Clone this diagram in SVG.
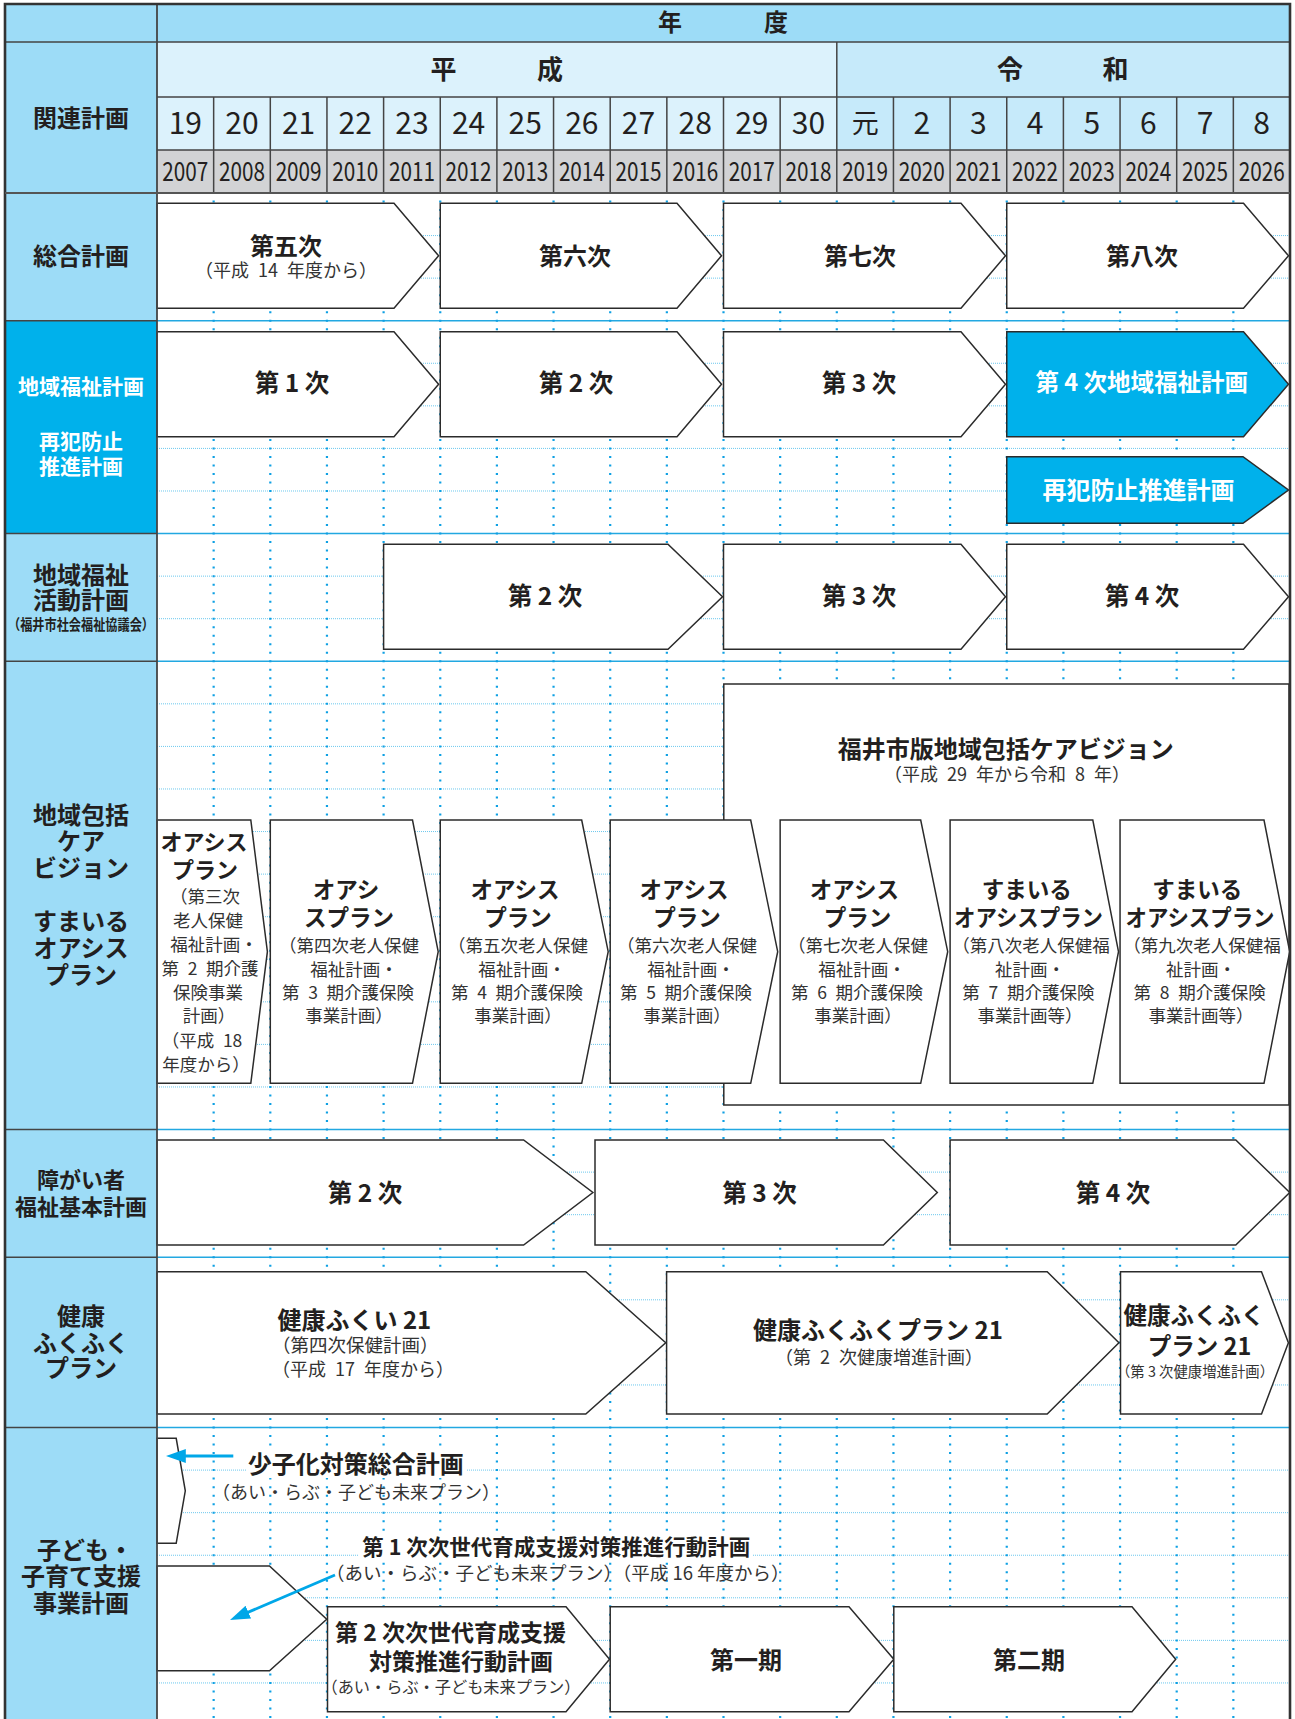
<svg xmlns="http://www.w3.org/2000/svg" width="1295" height="1719" viewBox="0 0 1295 1719">
<style>
.t{font-family:"Noto Sans CJK JP","Noto Sans",sans-serif;dominant-baseline:central;text-anchor:middle;transform:translateY(-2px)}
.b{font-weight:700;fill:#231f20}
.s{font-weight:400;fill:#333}
.n{font-weight:400;fill:#231f20}
.w{font-weight:700;fill:#fff}
.box{fill:#fff;stroke:#2b2b2b;stroke-width:1.5}
.cbox{fill:#00b1eb;stroke:#2b2b2b;stroke-width:1.5}
.hd{stroke:#444;stroke-width:1.5;fill:none}
.vd{stroke:#0ea0e3;stroke-width:2.2;stroke-dasharray:2 6.514;fill:none}
.hdot{stroke:#6cc8ee;stroke-width:1;stroke-dasharray:1 1;fill:none}
.maj{stroke:#22a8e1;stroke-width:1.5;fill:none}
.arr{stroke:#00a7e8;stroke-width:2.8;fill:none}
</style>
<defs>
<marker id="ah" markerUnits="userSpaceOnUse" markerWidth="20" markerHeight="14" refX="8" refY="7" orient="auto">
<path d="M0,0 L20,7 L0,14 Z" fill="#00a7e8"/>
</marker>
</defs>
<rect x="0" y="0" width="1295" height="1719" fill="#fff"/>

<g id="header">
<rect x="5" y="4" width="152" height="1715" fill="#9ddcf7"/>
<rect x="5" y="320.71" width="152" height="212.85" fill="#00b1eb"/>
<rect x="157" y="4" width="1133" height="38" fill="#9ddcf7"/>
<rect x="157" y="42" width="679.8" height="108" fill="#dcf2fc"/>
<rect x="836.8" y="42" width="453.2" height="108" fill="#c6eafa"/>
<rect x="157" y="150" width="1133" height="43" fill="#d2d3d5"/>
<path class="hd" d="M5,42H1290M157,97H1290M157,150H1290M5,320.71H157M5,533.56H157M5,661.27H157M5,1129.54H157M5,1257.25H157M5,1427.53H157M836.8,42V193"/>
<path class="hd" d="M213.65,97V193M270.3,97V193M326.95,97V193M383.6,97V193M440.25,97V193M496.9,97V193M553.55,97V193M610.2,97V193M666.85,97V193M723.5,97V193M780.15,97V193M893.45,97V193M950.1,97V193M1006.75,97V193M1063.4,97V193M1120.05,97V193M1176.7,97V193M1233.35,97V193"/>
<text class="t b" x="670" y="22.5" font-size="24">年</text>
<text class="t b" x="776" y="22.5" font-size="24">度</text>
<text class="t b" x="443.5" y="69" font-size="26">平</text>
<text class="t b" x="550" y="69" font-size="26">成</text>
<text class="t b" x="1010" y="69" font-size="26">令</text>
<text class="t b" x="1115.5" y="69" font-size="26">和</text>
<g class="t n" font-size="30">
<text x="185.33" y="123">19</text><text x="241.98" y="123">20</text><text x="298.63" y="123">21</text><text x="355.28" y="123">22</text><text x="411.93" y="123">23</text><text x="468.58" y="123">24</text><text x="525.23" y="123">25</text><text x="581.88" y="123">26</text><text x="638.53" y="123">27</text><text x="695.18" y="123">28</text><text x="751.83" y="123">29</text><text x="808.48" y="123">30</text><text x="865.13" y="123" font-size="27">元</text><text x="921.78" y="123">2</text><text x="978.43" y="123">3</text><text x="1035.08" y="123">4</text><text x="1091.73" y="123">5</text><text x="1148.38" y="123">6</text><text x="1205.03" y="123">7</text><text x="1261.68" y="123">8</text>
</g>
<g class="t n" font-size="26">
<text x="185.33" y="171.5" textLength="46" lengthAdjust="spacingAndGlyphs">2007</text><text x="241.98" y="171.5" textLength="46" lengthAdjust="spacingAndGlyphs">2008</text><text x="298.63" y="171.5" textLength="46" lengthAdjust="spacingAndGlyphs">2009</text><text x="355.28" y="171.5" textLength="46" lengthAdjust="spacingAndGlyphs">2010</text><text x="411.93" y="171.5" textLength="46" lengthAdjust="spacingAndGlyphs">2011</text><text x="468.58" y="171.5" textLength="46" lengthAdjust="spacingAndGlyphs">2012</text><text x="525.23" y="171.5" textLength="46" lengthAdjust="spacingAndGlyphs">2013</text><text x="581.88" y="171.5" textLength="46" lengthAdjust="spacingAndGlyphs">2014</text><text x="638.53" y="171.5" textLength="46" lengthAdjust="spacingAndGlyphs">2015</text><text x="695.18" y="171.5" textLength="46" lengthAdjust="spacingAndGlyphs">2016</text><text x="751.83" y="171.5" textLength="46" lengthAdjust="spacingAndGlyphs">2017</text><text x="808.48" y="171.5" textLength="46" lengthAdjust="spacingAndGlyphs">2018</text><text x="865.13" y="171.5" textLength="46" lengthAdjust="spacingAndGlyphs">2019</text><text x="921.78" y="171.5" textLength="46" lengthAdjust="spacingAndGlyphs">2020</text><text x="978.43" y="171.5" textLength="46" lengthAdjust="spacingAndGlyphs">2021</text><text x="1035.08" y="171.5" textLength="46" lengthAdjust="spacingAndGlyphs">2022</text><text x="1091.73" y="171.5" textLength="46" lengthAdjust="spacingAndGlyphs">2023</text><text x="1148.38" y="171.5" textLength="46" lengthAdjust="spacingAndGlyphs">2024</text><text x="1205.03" y="171.5" textLength="46" lengthAdjust="spacingAndGlyphs">2025</text><text x="1261.68" y="171.5" textLength="46" lengthAdjust="spacingAndGlyphs">2026</text>
</g>
</g>

<g id="labels">
<text class="t b" x="81" y="118" font-size="24">関連計画</text>
<text class="t b" x="81" y="256.7" font-size="24">総合計画</text>
<text class="t w" x="81" y="386.7" font-size="21">地域福祉計画</text>
<text class="t w" x="81" y="441.7" font-size="21">再犯防止</text>
<text class="t w" x="81" y="466.7" font-size="21">推進計画</text>
<text class="t b" x="81" y="575" font-size="24">地域福祉</text>
<text class="t b" x="81" y="600" font-size="24">活動計画</text>
<text class="t b" x="81" y="625" font-size="14.5" textLength="146" lengthAdjust="spacingAndGlyphs">（福井市社会福祉協議会）</text>
<text class="t b" x="81" y="815" font-size="24">地域包括</text>
<text class="t b" x="81" y="841.7" font-size="24">ケア</text>
<text class="t b" x="81" y="868.3" font-size="24">ビジョン</text>
<text class="t b" x="81" y="921.7" font-size="24">すまいる</text>
<text class="t b" x="81" y="948.3" font-size="24">オアシス</text>
<text class="t b" x="81" y="975" font-size="24">プラン</text>
<text class="t b" x="81" y="1180" font-size="22">障がい者</text>
<text class="t b" x="81" y="1207.3" font-size="22">福祉基本計画</text>
<text class="t b" x="81" y="1316.7" font-size="24">健康</text>
<text class="t b" x="81" y="1343.3" font-size="24">ふくふく</text>
<text class="t b" x="81" y="1368.3" font-size="24">プラン</text>
<text class="t b" x="85" y="1550" font-size="24">子ども・</text>
<text class="t b" x="81" y="1576.7" font-size="24">子育て支援</text>
<text class="t b" x="81" y="1603.3" font-size="24">事業計画</text>
</g>

<g id="grid">
<path class="hdot" d="M157,235.57H1290M157,278.14H1290M157,363.28H1290M157,405.85H1290M157,448.42H1290M157,490.99H1290M157,576.13H1290M157,618.7H1290M157,703.84H1290M157,746.41H1290M157,788.98H1290M157,831.55H1290M157,874.12H1290M157,916.69H1290M157,959.26H1290M157,1001.83H1290M157,1044.4H1290M157,1086.97H1290M157,1172.11H1290M157,1214.68H1290M157,1299.82H1290M157,1342.39H1290M157,1384.96H1290M157,1470.1H1290M157,1512.67H1290M157,1555.24H1290M157,1597.81H1290M157,1640.38H1290M157,1682.95H1290"/>
<path class="maj" d="M157,320.71H1290M157,533.56H1290M157,661.27H1290M157,1129.54H1290M157,1257.25H1290M157,1427.53H1290"/>
<path class="vd" d="M213.65,192V1719M270.3,192V1719M326.95,192V1719M383.6,192V1719M440.25,192V1719M496.9,192V1719M553.55,192V1719M610.2,192V1719M666.85,192V1719M723.5,192V1719M780.15,192V1719M836.8,192V1719M893.45,192V1719M950.1,192V1719M1006.75,192V1719M1063.4,192V1719M1120.05,192V1719M1176.7,192V1719M1233.35,192V1719"/>
</g>

<g id="sogo5"><path class="box" d="M157,203.3H394L438.6,255.8L394,308.3H157Z"/>
<text class="t b" x="286" y="246.7" font-size="24">第五次</text>
<text class="t s" x="286" y="270.7" font-size="18">（平成&#8194;14&#8194;年度から）</text></g>
<g id="sogo6"><path class="box" d="M440.25,203.3H677L721.5,255.8L677,308.3H440.25Z"/>
<text class="t b" x="575" y="256.7" font-size="24">第六次</text></g>
<g id="sogo7"><path class="box" d="M723.5,203.3H961L1005.5,255.8L961,308.3H723.5Z"/>
<text class="t b" x="860" y="256.7" font-size="24">第七次</text></g>
<g id="sogo8"><path class="box" d="M1006.75,203.3H1243.5L1288.5,255.8L1243.5,308.3H1006.75Z"/>
<text class="t b" x="1142" y="256.7" font-size="24">第八次</text></g>

<g id="chiiki1"><path class="box" d="M157,331.7H394L438.6,384.2L394,436.7H157Z"/>
<text class="t b" x="292" y="383.3" font-size="24.5">第 1 次</text></g>
<g id="chiiki2"><path class="box" d="M440.25,331.7H677L721.5,384.2L677,436.7H440.25Z"/>
<text class="t b" x="576" y="383.3" font-size="24.5">第 2 次</text></g>
<g id="chiiki3"><path class="box" d="M723.5,331.7H961L1005.5,384.2L961,436.7H723.5Z"/>
<text class="t b" x="859" y="383.3" font-size="24.5">第 3 次</text></g>
<g id="chiiki4"><path class="cbox" d="M1006.75,331.7H1243.5L1288.5,384.2L1243.5,436.7H1006.75Z"/>
<text class="t w" x="1141.8" y="383.3" font-size="23.5">第 4 次地域福祉計画</text></g>
<g id="saihan"><path class="cbox" d="M1006.75,456.7H1243L1288.5,490L1243,523.3H1006.75Z"/>
<text class="t w" x="1138.5" y="490.7" font-size="24">再犯防止推進計画</text></g>

<g id="katsudo2"><path class="box" d="M383.6,544.3H668L722.5,596.8L668,649.3H383.6Z"/>
<text class="t b" x="545" y="596.7" font-size="24.5">第 2 次</text></g>
<g id="katsudo3"><path class="box" d="M723.5,544.3H961L1005.5,596.8L961,649.3H723.5Z"/>
<text class="t b" x="859" y="596.7" font-size="24.5">第 3 次</text></g>
<g id="katsudo4"><path class="box" d="M1006.75,544.3H1243.5L1288.5,596.8L1243.5,649.3H1006.75Z"/>
<text class="t b" x="1142" y="596.7" font-size="24.5">第 4 次</text></g>

<g id="carevision"><rect class="box" x="723.8" y="684" width="565.2" height="421"/>
<text class="t b" x="1005.7" y="749.3" font-size="24">福井市版地域包括ケアビジョン</text>
<text class="t s" x="1007" y="775" font-size="18">（平成&#8194;29&#8194;年から令和&#8194;8&#8194;年）</text></g>

<g id="oasis1"><path class="box" d="M157,820H250.8L267.4,951.7L250.8,1083.3H157Z"/>
<text class="t b" x="204" y="841.7" font-size="22">オアシス</text>
<text class="t b" x="205" y="870" font-size="22">プラン</text>
<g class="t s" font-size="17.5">
<text x="205" y="897.3">（第三次</text><text x="208" y="921">老人保健</text><text x="214" y="945">福祉計画・</text><text x="210" y="969.3">第&#8194;2&#8194;期介護</text><text x="208" y="993.3">保険事業</text><text x="209" y="1016.7">計画）</text><text x="202" y="1041">（平成&#8194;18</text><text x="206" y="1065">年度から）</text>
</g></g>
<g id="oasis2"><path class="box" d="M270.3,820H412.5L438.2,951.7L412.5,1083.3H270.3Z"/>
<text class="t b" x="346" y="890" font-size="22.5">オアシ</text>
<text class="t b" x="349" y="918.3" font-size="22.5">スプラン</text>
<g class="t s" font-size="17.5"><text x="349" y="946">（第四次老人保健</text><text x="354" y="970">福祉計画・</text><text x="348" y="993.3">第&#8194;3&#8194;期介護保険</text><text x="349" y="1016.7">事業計画）</text></g></g>
<g id="oasis3"><path class="box" d="M440.25,820H581.7L608.2,951.7L581.7,1083.3H440.25Z"/>
<text class="t b" x="515" y="890" font-size="22.5">オアシス</text>
<text class="t b" x="518" y="918.3" font-size="22.5">プラン</text>
<g class="t s" font-size="17.5"><text x="518" y="946">（第五次老人保健</text><text x="522" y="970">福祉計画・</text><text x="517" y="993.3">第&#8194;4&#8194;期介護保険</text><text x="518" y="1016.7">事業計画）</text></g></g>
<g id="oasis4"><path class="box" d="M610.2,820H750.7L777.7,951.7L750.7,1083.3H610.2Z"/>
<text class="t b" x="684" y="890" font-size="22.5">オアシス</text>
<text class="t b" x="687" y="918.3" font-size="22.5">プラン</text>
<g class="t s" font-size="17.5"><text x="687" y="946">（第六次老人保健</text><text x="691" y="970">福祉計画・</text><text x="686" y="993.3">第&#8194;5&#8194;期介護保険</text><text x="687" y="1016.7">事業計画）</text></g></g>
<g id="oasis5"><path class="box" d="M780.15,820H920.7L947.7,951.7L920.7,1083.3H780.15Z"/>
<text class="t b" x="854.4" y="890" font-size="22.5">オアシス</text>
<text class="t b" x="857.4" y="918.3" font-size="22.5">プラン</text>
<g class="t s" font-size="17.5"><text x="858" y="946">（第七次老人保健</text><text x="862" y="970">福祉計画・</text><text x="857" y="993.3">第&#8194;6&#8194;期介護保険</text><text x="858" y="1016.7">事業計画）</text></g></g>
<g id="sumairu6"><path class="box" d="M950.1,820H1092.8L1118.5,951.7L1092.8,1083.3H950.1Z"/>
<text class="t b" x="1026.8" y="890" font-size="22.5">すまいる</text>
<text class="t b" x="1028.5" y="918.3" font-size="22.5" textLength="149" lengthAdjust="spacingAndGlyphs">オアシスプラン</text>
<g class="t s" font-size="17.5"><text x="1031" y="946">（第八次老人保健福</text><text x="1030" y="970">祉計画・</text><text x="1028.4" y="993.3">第&#8194;7&#8194;期介護保険</text><text x="1030" y="1016.7">事業計画等）</text></g></g>
<g id="sumairu7"><path class="box" d="M1120.05,820H1264L1289.7,951.7L1264,1083.3H1120.05Z"/>
<text class="t b" x="1197.3" y="890" font-size="22.5">すまいる</text>
<text class="t b" x="1200" y="918.3" font-size="22.5" textLength="149" lengthAdjust="spacingAndGlyphs">オアシスプラン</text>
<g class="t s" font-size="17.5"><text x="1202" y="946">（第九次老人保健福</text><text x="1201" y="970">祉計画・</text><text x="1199.7" y="993.3">第&#8194;8&#8194;期介護保険</text><text x="1201" y="1016.7">事業計画等）</text></g></g>

<g id="shogai2"><path class="box" d="M157,1140H523.6L592.9,1192.5L523.6,1245H157Z"/>
<text class="t b" x="365" y="1193.3" font-size="24.5">第 2 次</text></g>
<g id="shogai3"><path class="box" d="M595,1140H883.4L937.3,1192.5L883.4,1245H595Z"/>
<text class="t b" x="759.5" y="1193" font-size="24.5">第 3 次</text></g>
<g id="shogai4"><path class="box" d="M950.1,1140H1235.8L1289.7,1192.5L1235.8,1245H950.1Z"/>
<text class="t b" x="1113" y="1193" font-size="24.5">第 4 次</text></g>

<g id="kenko1"><path class="box" d="M157,1271.7H585.8L665.7,1342.8L585.8,1414H157Z"/>
<text class="t b" x="277.5" y="1320" font-size="24" style="text-anchor:start">健康ふくい 21</text>
<text class="t s" x="272" y="1346" font-size="18.5" style="text-anchor:start">（第四次保健計画）</text>
<text class="t s" x="272" y="1370" font-size="18" style="text-anchor:start">（平成&#8194;17&#8194;年度から）</text></g>
<g id="kenko2"><path class="box" d="M666.6,1271.7H1047.2L1118.9,1342.8L1047.2,1414H666.6Z"/>
<text class="t b" x="878" y="1330.7" font-size="24">健康ふくふくプラン 21</text>
<text class="t s" x="879" y="1357.7" font-size="18">（第&#8194;2&#8194;次健康増進計画）</text></g>
<g id="kenko3"><path class="box" d="M1120.5,1271.7H1261.5L1288.4,1342.8L1261.5,1414H1120.5Z"/>
<text class="t b" x="1194" y="1316" font-size="23.5">健康ふくふく</text>
<text class="t b" x="1199.5" y="1346.7" font-size="23.5">プラン 21</text>
<text class="t s" x="1195" y="1372.7" font-size="14.5" textLength="158" lengthAdjust="spacingAndGlyphs">（第 3 次健康増進計画）</text></g>

<g id="shoshika"><path class="box" d="M157,1438.3H176.2L185.3,1490.8L176.2,1543.3H157Z"/>
<rect x="246" y="1451" width="220" height="27" fill="#fff"/>
<text class="t b" x="355.8" y="1464.3" font-size="24">少子化対策総合計画</text>
<text class="t s" x="356" y="1492.7" font-size="18">（あい・らぶ・子ども未来プラン）</text></g>
<g id="jisedai1"><path class="box" d="M157,1566H269.5L326.7,1619.3L269.5,1670.7H157Z"/>
<rect x="358" y="1535" width="395" height="26" fill="#fff"/>
<text class="t b" x="556.3" y="1547.7" font-size="21.5">第 1 次次世代育成支援対策推進行動計画</text>
<text class="t s" x="557.8" y="1574.3" font-size="18.5">（あい・らぶ・子ども未来プラン）（平成 16 年度から）</text></g>
<g id="jisedai2"><path class="box" d="M327.5,1606.7H566L609.5,1659.3L566,1711.7H327.5Z"/>
<text class="t b" x="450.5" y="1633.3" font-size="23">第 2 次次世代育成支援</text>
<text class="t b" x="461" y="1661.7" font-size="23">対策推進行動計画</text>
<text class="t s" x="451" y="1688.3" font-size="16.2">（あい・らぶ・子ども未来プラン）</text></g>
<g id="ki1"><path class="box" d="M610.2,1606.7H849L893.8,1659.3L849,1711.7H610.2Z"/>
<text class="t b" x="746" y="1660" font-size="24">第一期</text></g>
<g id="ki2"><path class="box" d="M893.8,1606.7H1132L1175.7,1659.3L1132,1711.7H893.8Z"/>
<text class="t b" x="1029" y="1660" font-size="24">第二期</text></g>

<g id="connectors">
<line class="arr" x1="233.3" y1="1456" x2="177.8" y2="1456" marker-end="url(#ah)"/>
<line class="arr" x1="335" y1="1575" x2="241" y2="1615.3" marker-end="url(#ah)"/>
</g>

<g id="frame">
<path d="M157,4V1719" stroke="#444" stroke-width="1.8" fill="none"/>
<path d="M5,1719V4H1290V1719" stroke="#333" stroke-width="2.6" fill="none"/>
<path d="M5,193H1290" stroke="#555" stroke-width="2" fill="none"/>
</g>
</svg>
